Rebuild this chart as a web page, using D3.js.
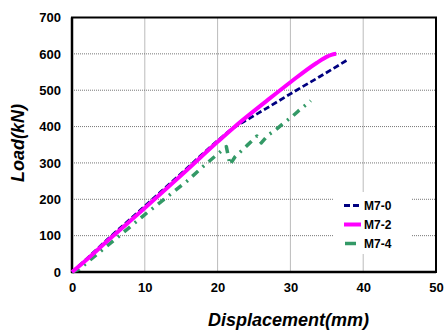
<!DOCTYPE html>
<html><head><meta charset="utf-8">
<script src="https://cdn.jsdelivr.net/npm/d3@7"></script>
<style>body{margin:0;background:#fff}svg{display:block}</style>
</head><body>
<script>
const xTicks = [0,10,20,30,40,50];
const yTicks = [0,100,200,300,400,500,600,700];
const seriesNames = ["M7-0","M7-2","M7-4"];
const m70 = [[0,0],[2,36],[5,92],[10,181],[15,271],[20,361],[22,394],[24.5,424],[26.7,450],[30,490],[34,537],[37.9,584]];
const m72 = [[0,0],[2,34],[5,88],[10,176],[15,266],[20,358],[22.2,397],[26.7,470],[30,522],[33.6,575],[35.2,594],[35.9,599],[36.3,600]];
const m74 = [[0,0],[1,8],[3.5,50],[6.6,101],[10,158],[15.8,250],[18,290],[20.1,326],[21.2,345],[21.7,295],[22.4,317],[23.1,330],[24.1,349],[25.4,374],[26.0,355],[26.9,376],[27.9,390],[29,408],[30.2,427],[31.1,443],[32.8,471]];

const W=444,H=330, L=72,R=436,T=17.5,B=272;
const svg=d3.select("body").append("svg").attr("width",W).attr("height",H);
const x=d3.scaleLinear().domain([0,50]).range([L,R]);
const y=d3.scaleLinear().domain([0,700]).range([B,T]);
const FF="Liberation Sans, Arial, sans-serif";

// grid
svg.append("g").selectAll("line").data(xTicks.slice(1,-1)).join("line")
 .attr("x1",d=>x(d)).attr("x2",d=>x(d)).attr("y1",T).attr("y2",B)
 .attr("stroke","#777").attr("stroke-width",1).attr("stroke-dasharray","1,1");
svg.append("g").selectAll("line").data(yTicks.slice(1,-1)).join("line")
 .attr("y1",d=>y(d)).attr("y2",d=>y(d)).attr("x1",L).attr("x2",R)
 .attr("stroke","#777").attr("stroke-width",1).attr("stroke-dasharray","1,1");

// axes
const xa=svg.append("g").attr("transform",`translate(0,${B})`).call(d3.axisBottom(x).tickValues(xTicks).tickSize(0).tickPadding(11));
const ya=svg.append("g").attr("transform",`translate(${L},0)`).call(d3.axisLeft(y).tickValues(yTicks).tickSize(0).tickPadding(11));
[xa,ya].forEach(a=>{a.select(".domain").remove();a.selectAll("text").attr("font-family",FF).attr("font-weight","bold").attr("font-size",13).attr("fill","#000");});

// frame
svg.append("rect").attr("x",L).attr("y",T).attr("width",R-L).attr("height",B-T).attr("fill","none").attr("stroke","#000").attr("stroke-width",2);
svg.append("line").attr("x1",L).attr("x2",L).attr("y1",T).attr("y2",B+1).attr("stroke","#000").attr("stroke-width",2.5);
svg.append("line").attr("x1",L-1).attr("x2",R).attr("y1",B).attr("y2",B).attr("stroke","#000").attr("stroke-width",2.5);

// legend background
svg.append("rect").attr("x",333).attr("y",192).attr("width",79).attr("height",62).attr("fill","#fff");

const line=d3.line().x(d=>x(d[0])).y(d=>y(d[1])).curve(d3.curveMonotoneX);
const lineG=d3.line().x(d=>x(d[0])).y(d=>y(d[1]));
const styles=[
 {data:m70,color:"#000080",w:2.8,dash:"6,3"},
 {data:m72,color:"#ff00ff",w:4,dash:null},
 {data:m74,color:"#339966",w:3.5,dash:"8,6,2,6"}];
const order=[2,0,1];
order.forEach(i=>{const s=styles[i];
 svg.append("path").datum(s.data).attr("d",i===2?lineG:line).attr("fill","none").attr("stroke",s.color)
  .attr("stroke-width",s.w).attr("stroke-dasharray",s.dash).attr("stroke-linejoin","round");});

// legend
const ly=[205.5,224.5,243.5];
seriesNames.forEach((n,i)=>{const s=styles[i];
 svg.append("line").attr("x1",i===2?345:344).attr("x2",i===2?356:361).attr("y1",ly[i]).attr("y2",ly[i])
  .attr("stroke",s.color).attr("stroke-width",s.w).attr("stroke-dasharray",i===0?"6,3":null);
 svg.append("text").attr("x",364).attr("y",ly[i]+4.5).text(n)
  .attr("font-family",FF).attr("font-weight","bold").attr("font-size",12);
});

// axis titles
svg.append("text").attr("x",208).attr("y",326).text("Displacement(mm)")
 .attr("font-family",FF).attr("font-weight","bold").attr("font-style","italic").attr("font-size",18);
svg.append("text").attr("transform","translate(24,143) rotate(-90)").attr("text-anchor","middle").text("Load(kN)")
 .attr("font-family",FF).attr("font-weight","bold").attr("font-style","italic").attr("font-size",18);
</script>
</body></html>
